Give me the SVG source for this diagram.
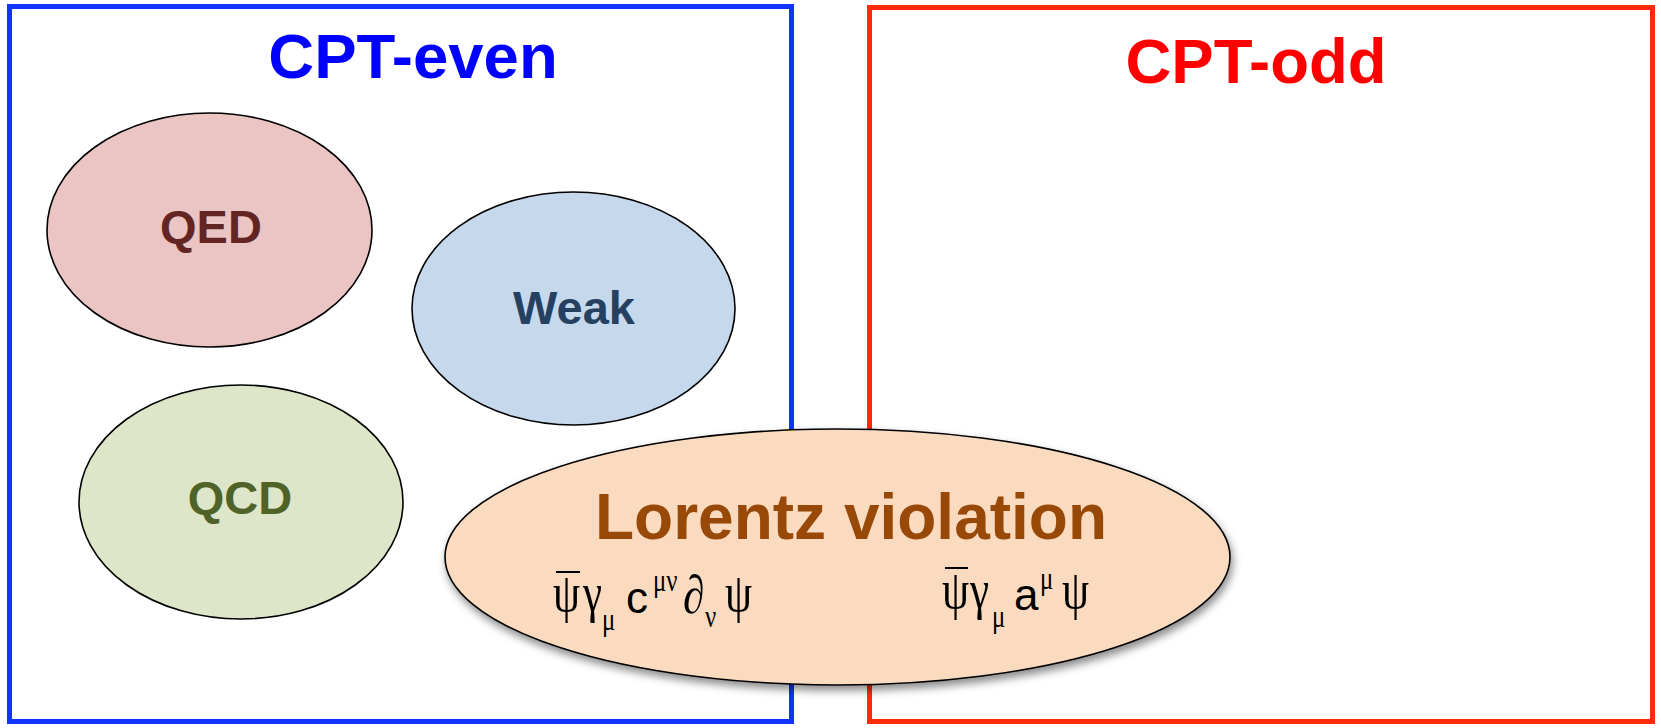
<svg xmlns="http://www.w3.org/2000/svg" width="1661" height="728" viewBox="0 0 1661 728">
<style>
.box{fill:none;stroke-width:5}
.ell{stroke:#000;stroke-width:1.6}
.lbl{font-family:"Liberation Sans",Arial,sans-serif;font-weight:bold;text-anchor:middle}
.gr{font-family:"Liberation Serif","Times New Roman",serif;fill:#000;font-size:54px}
.sm{font-family:"Liberation Serif","Times New Roman",serif;fill:#000;font-size:31px}
.la{font-family:"Liberation Sans",Arial,sans-serif;fill:#000;font-size:44px}
.bar{stroke:#000;stroke-width:2}
</style>
<defs>
<filter id="sh" x="-10%" y="-20%" width="120%" height="150%">
<feDropShadow dx="2" dy="5" stdDeviation="4" flood-color="#000" flood-opacity="0.45"/>
</filter>
</defs>
<rect width="1661" height="728" fill="#fff"/>
<g id="cpt-even">
<rect class="box" x="9.5" y="6.5" width="782" height="715" stroke="#1033FF"/>
<text class="lbl" x="413" y="78" font-size="63.5" fill="#0000FF">CPT-even</text>
</g>
<g id="cpt-odd">
<rect class="box" x="869.5" y="7.5" width="783" height="714" stroke="#FF2A0A"/>
<text class="lbl" x="1256" y="83" font-size="63.5" fill="#FF0000">CPT-odd</text>
</g>
<g id="qed">
<ellipse class="ell" cx="209.5" cy="230" rx="162.5" ry="117" fill="#EBC5C4"/>
<text class="lbl" x="211" y="243" font-size="47" fill="#632523">QED</text>
</g>
<g id="weak">
<ellipse class="ell" cx="573.5" cy="308.5" rx="161.5" ry="116.5" fill="#C6D8EB"/>
<text class="lbl" x="574" y="324" font-size="47" fill="#254061">Weak</text>
</g>
<g id="qcd">
<ellipse class="ell" cx="241" cy="502" rx="162" ry="117" fill="#DDE6C8"/>
<text class="lbl" x="240" y="514" font-size="47" fill="#4F6228">QCD</text>
</g>
<g id="lorentz">
<ellipse class="ell" cx="837.5" cy="557" rx="392.5" ry="128" fill="#FBDBC0" filter="url(#sh)"/>
<text class="lbl" x="851" y="539" font-size="64" fill="#984807">Lorentz violation</text>
<g id="term-c">
<line class="bar" x1="556" y1="572" x2="580" y2="572"/>
<text class="gr" transform="translate(553,611) scale(0.8,1)">ψ</text>
<text class="gr" transform="translate(583,611) scale(0.8,1)">γ</text>
<text class="sm" transform="translate(602,630) scale(0.8,1)">μ</text>
<text class="la" x="626" y="613">c</text>
<text class="sm" transform="translate(653,591) scale(0.8,1)">μν</text>
<text class="gr" transform="translate(683,613) scale(0.8,1)">∂</text>
<text class="sm" transform="translate(705,627) scale(0.8,1)">ν</text>
<text class="gr" transform="translate(725,611) scale(0.8,1)">ψ</text>
</g>
<g id="term-a">
<line class="bar" x1="945" y1="568" x2="968" y2="568"/>
<text class="gr" transform="translate(942,608) scale(0.8,1)">ψ</text>
<text class="gr" transform="translate(970,608) scale(0.8,1)">γ</text>
<text class="sm" transform="translate(992,627) scale(0.8,1)">μ</text>
<text class="la" x="1014" y="610">a</text>
<text class="sm" transform="translate(1040,589) scale(0.8,1)">μ</text>
<text class="gr" transform="translate(1062,608) scale(0.8,1)">ψ</text>
</g>
</g>
</svg>
